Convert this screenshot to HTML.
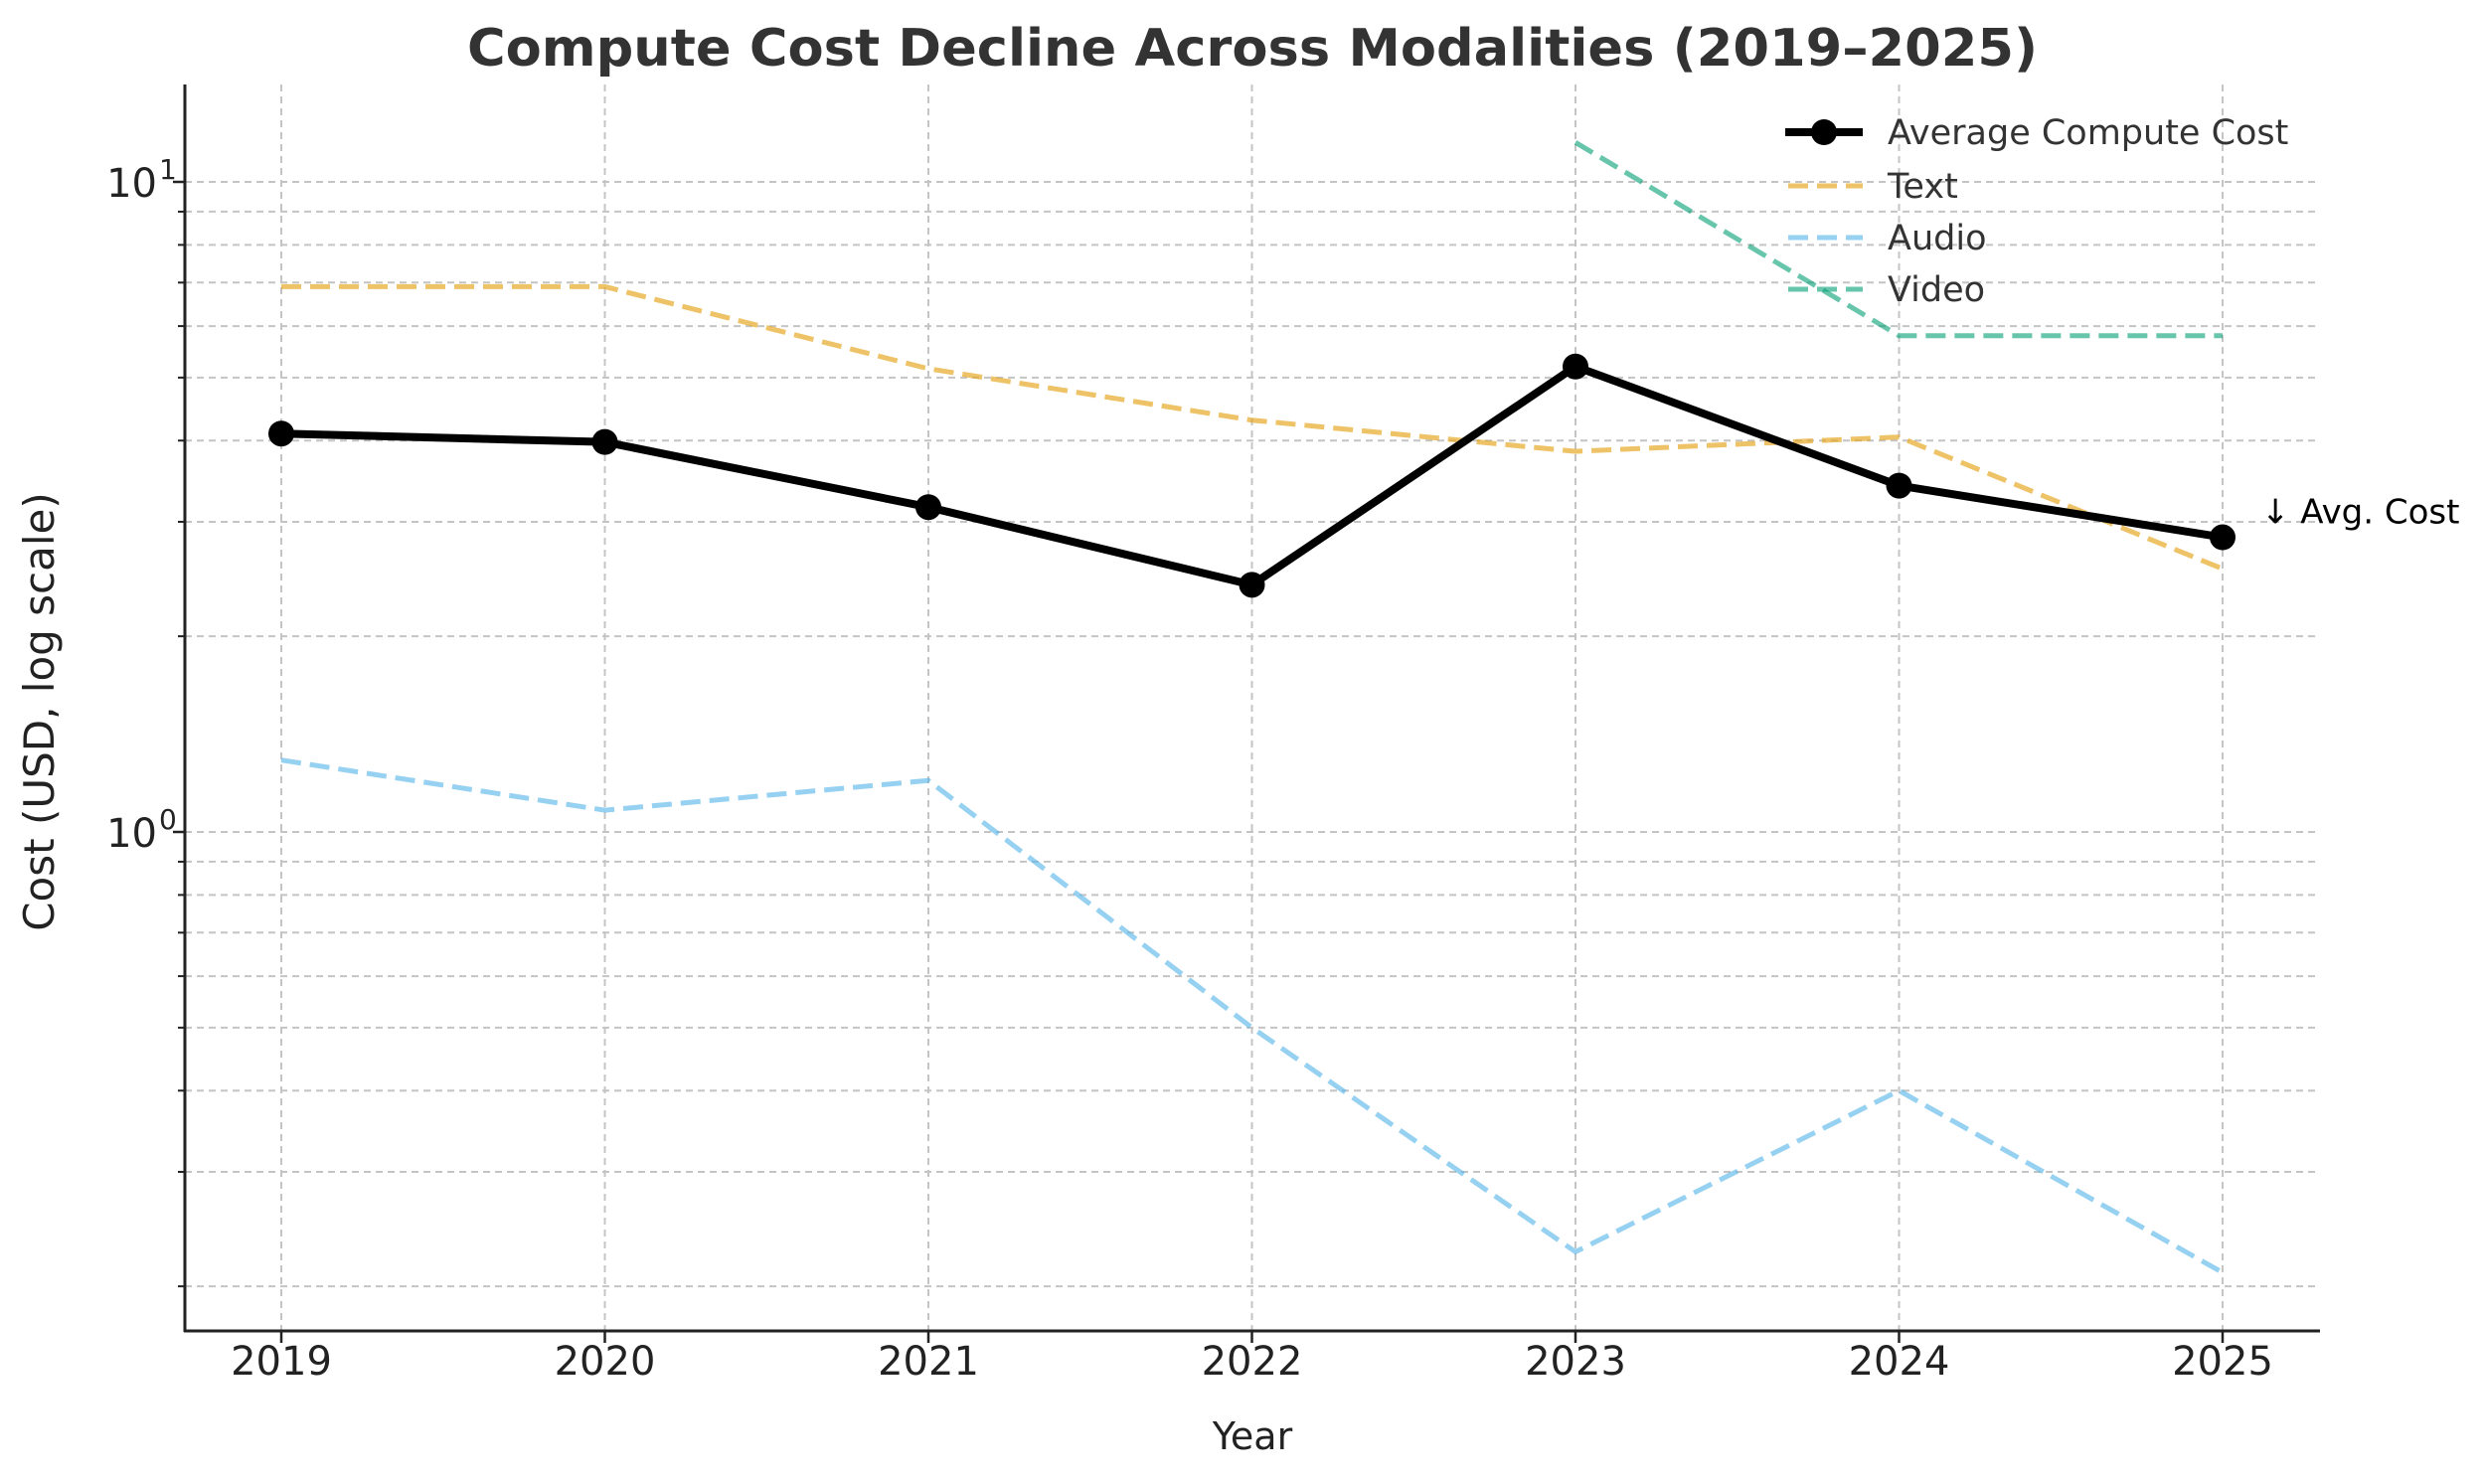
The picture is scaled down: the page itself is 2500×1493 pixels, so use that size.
<!DOCTYPE html>
<html><head><meta charset="utf-8"><style>
html,body{margin:0;padding:0;background:#fff}
svg{display:block;font-family:"DejaVu Sans","Liberation Sans",sans-serif}
</style></head><body>
<svg id="chart" width="2500" height="1493" viewBox="0 0 2500 1493" xmlns="http://www.w3.org/2000/svg">
<rect width="2500" height="1493" fill="#fff"/>
<g id="grid"></g>
<g id="series"></g>
<g id="axes"></g>
<text x="1260" y="66" text-anchor="middle" font-weight="bold" font-size="52" fill="#333" textLength="1580" lengthAdjust="spacingAndGlyphs">Compute Cost Decline Across Modalities (2019–2025)</text>
<text x="1260" y="1458" text-anchor="middle" font-size="38" fill="#222">Year</text>
<text transform="translate(54,716) rotate(-90)" text-anchor="middle" font-size="42" fill="#222">Cost (USD, log scale)</text>
<g id="legend"></g>
</svg>
<script>
const years = [2019, 2020, 2021, 2022, 2023, 2024, 2025];
const avgCost = [4.1, 3.98, 3.16, 2.4, 5.2, 3.41, 2.84];
const textCost = [6.9, 6.9, 5.16, 4.3, 3.85, 4.05, 2.54];
const audioCost = [1.29, 1.08, 1.2, 0.5, 0.226, 0.40, 0.21];
const videoCost = [null, null, null, null, 11.5, 5.8, 5.8];
const yTickLabels = ["10", "10"];
const yTickExps = ["0", "1"];
const yTickValues = [1, 10];

const NS = "http://www.w3.org/2000/svg";
const L = 186, R = 2334, T = 85, B = 1339;
const x0 = 283, xStep = 325.5;
const y1 = 837, decade = 654;
function xs(yr){ return x0 + (yr - years[0]) * xStep; }
function ys(v){ return y1 - decade * Math.log10(v); }
function mk(tag, attrs, parent){ const e=document.createElementNS(NS,tag); for(const k in attrs) e.setAttribute(k,attrs[k]); parent.appendChild(e); return e; }

const grid=document.getElementById('grid'), axes=document.getElementById('axes'), ser=document.getElementById('series'), leg=document.getElementById('legend');

years.forEach(yr=>{
  const l=mk('line',{x1:xs(yr),x2:xs(yr),y1:T,y2:B,stroke:'#c4c4c4','stroke-width':2,'stroke-dasharray':'7,5'},grid);
  
  
  const t=mk('line',{x1:xs(yr),x2:xs(yr),y1:B,y2:B+12,stroke:'#222','stroke-width':2.5},axes);
  
  
  const tx=mk('text',{x:xs(yr),y:1383,'text-anchor':'middle','font-size':40,fill:'#222'},axes);
  tx.textContent=yr;
  
  
});
for(let e=-1;e<=1;e++){
  for(let m=1;m<=9;m++){
    const v=m*Math.pow(10,e); const y=ys(v);
    if(y<T||y>B) continue;
    const major=(m===1);
    const l=mk('line',{x1:L,x2:R,y1:y,y2:y,stroke:'#c4c4c4','stroke-width':2,'stroke-dasharray':'7,5'},grid);
    
    
    const t=mk('line',{x1:L-(major?12:7),x2:L,y1:y,y2:y,stroke:'#222','stroke-width':major?2.5:2},axes);
    
    
  }
}
yTickValues.forEach((v,i)=>{
  const tx=mk('text',{x:158,y:ys(v)+15,'text-anchor':'end','font-size':40,fill:'#222'},axes);
  tx.textContent=yTickLabels[i];
  
  
  const sp=mk('text',{x:160,y:ys(v)-3,'font-size':28,fill:'#222'},axes);
  sp.textContent=yTickExps[i];
  
  
});
const sl=mk('line',{x1:L,x2:L,y1:T,y2:B+1,stroke:'#222','stroke-width':3},axes);


const sb=mk('line',{x1:L-1,x2:R,y1:B,y2:B,stroke:'#222','stroke-width':3},axes);



function pathFor(arr){
  let d='';
  arr.forEach((v,i)=>{ if(v==null) return; d+=(d?'L':'M')+xs(years[i])+','+ys(v); });
  return d;
}
function dashed(arr,color,name){
  const p=mk('path',{d:pathFor(arr),fill:'none',stroke:color,'stroke-width':5,'stroke-dasharray':'20,9'},ser);
  
  
}
dashed(textCost,'rgba(230,165,30,0.68)','text-line');
dashed(audioCost,'rgba(86,180,233,0.62)','audio-line');
dashed(videoCost,'rgba(0,158,115,0.6)','video-line');
const ap=mk('path',{d:pathFor(avgCost),fill:'none',stroke:'#000','stroke-width':8,'stroke-linejoin':'round'},ser);


avgCost.forEach((v,i)=>{
  const c=mk('circle',{cx:xs(years[i]),cy:ys(v),r:13,fill:'#000'},ser);
  
  
});
const an=mk('text',{x:2275,y:ys(avgCost[6])-14,'font-size':34,fill:'#000'},ser);
an.textContent='↓ Avg. Cost';



const items=[['Average Compute Cost','#000',true],['Text','rgba(230,165,30,0.68)',false],['Audio','rgba(86,180,233,0.62)',false],['Video','rgba(0,158,115,0.6)',false]];
const rowsY=[133,187,239,291];
items.forEach((it,i)=>{
  const y=rowsY[i];
  const g=mk('g',{},leg);
  
  
  if(it[2]){
    mk('line',{x1:1796,x2:1874,y1:y,y2:y,stroke:'#000','stroke-width':8},g);
    mk('circle',{cx:1835,cy:y,r:13,fill:'#000'},g);
  } else {
    mk('line',{x1:1799,x2:1874,y1:y,y2:y,stroke:it[1],'stroke-width':5,'stroke-dasharray':'20,9'},g);
  }
  const t=mk('text',{x:1899,y:y+12,'font-size':35,fill:'#333'},g);
  t.textContent=it[0];
});
</script>
</body></html>
